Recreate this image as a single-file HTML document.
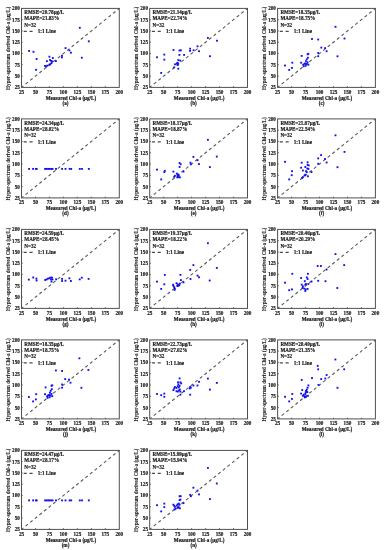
<!DOCTYPE html>
<html><head><meta charset="utf-8"><style>
html,body{margin:0;padding:0;background:#fff;width:385px;height:550px;overflow:hidden}
svg{display:block;will-change:transform;filter:blur(0.3px)}
text{font-family:"Liberation Serif",serif;font-weight:bold;font-size:5.15px;fill:#1a1a1a;stroke:#1a1a1a;stroke-width:0.18px}
.lg{font-size:5.15px}
.tk{stroke:#333;stroke-width:0.8}
.p{fill:#1010ee}
</style></head><body>
<svg width="385" height="550" viewBox="0 0 385 550">
<line x1="21.50" y1="87.40" x2="119.30" y2="8.40" stroke="#585858" stroke-width="1.1" stroke-dasharray="3.1 2.82" stroke-dashoffset="0.7"/>
<text x="21.50" y="93.70" text-anchor="middle">25</text>
<text x="19.80" y="89.30" text-anchor="end">25</text>
<line x1="35.47" y1="87.40" x2="35.47" y2="86.20" class="tk"/>
<line x1="21.50" y1="76.11" x2="22.70" y2="76.11" class="tk"/>
<text x="35.47" y="93.70" text-anchor="middle">50</text>
<text x="19.80" y="78.01" text-anchor="end">50</text>
<line x1="49.44" y1="87.40" x2="49.44" y2="86.20" class="tk"/>
<line x1="21.50" y1="64.83" x2="22.70" y2="64.83" class="tk"/>
<text x="49.44" y="93.70" text-anchor="middle">75</text>
<text x="19.80" y="66.73" text-anchor="end">75</text>
<line x1="63.41" y1="87.40" x2="63.41" y2="86.20" class="tk"/>
<line x1="21.50" y1="53.54" x2="22.70" y2="53.54" class="tk"/>
<text x="63.41" y="93.70" text-anchor="middle">100</text>
<text x="19.80" y="55.44" text-anchor="end">100</text>
<line x1="77.39" y1="87.40" x2="77.39" y2="86.20" class="tk"/>
<line x1="21.50" y1="42.26" x2="22.70" y2="42.26" class="tk"/>
<text x="77.39" y="93.70" text-anchor="middle">125</text>
<text x="19.80" y="44.16" text-anchor="end">125</text>
<line x1="91.36" y1="87.40" x2="91.36" y2="86.20" class="tk"/>
<line x1="21.50" y1="30.97" x2="22.70" y2="30.97" class="tk"/>
<text x="91.36" y="93.70" text-anchor="middle">150</text>
<text x="19.80" y="32.87" text-anchor="end">150</text>
<line x1="105.33" y1="87.40" x2="105.33" y2="86.20" class="tk"/>
<line x1="21.50" y1="19.69" x2="22.70" y2="19.69" class="tk"/>
<text x="105.33" y="93.70" text-anchor="middle">175</text>
<text x="19.80" y="21.59" text-anchor="end">175</text>
<text x="119.30" y="93.70" text-anchor="middle">200</text>
<text x="19.80" y="10.30" text-anchor="end">200</text>
<rect x="21.50" y="8.40" width="97.80" height="79.00" fill="none" stroke="#505050" stroke-width="1"/>
<text class="lg" x="24.30" y="14.00">RMSE=20.78μg/L</text>
<text class="lg" x="24.30" y="20.20">MAPE=21.83%</text>
<text class="lg" x="24.30" y="26.75">N=32</text>
<line x1="23.70" y1="31.40" x2="32.60" y2="31.40" stroke="#4a4a4a" stroke-width="1.1" stroke-dasharray="3.1 2.7"/>
<text class="lg" x="37.70" y="33.40">1:1 Line</text>
<rect x="28.18" y="49.98" width="1.85" height="1.85" class="p"/>
<rect x="32.58" y="50.88" width="1.85" height="1.85" class="p"/>
<rect x="35.68" y="58.08" width="1.85" height="1.85" class="p"/>
<rect x="35.18" y="68.88" width="1.85" height="1.85" class="p"/>
<rect x="48.48" y="55.78" width="1.85" height="1.85" class="p"/>
<rect x="51.88" y="57.08" width="1.85" height="1.85" class="p"/>
<rect x="45.98" y="60.28" width="1.85" height="1.85" class="p"/>
<rect x="49.08" y="59.08" width="1.85" height="1.85" class="p"/>
<rect x="50.28" y="59.98" width="1.85" height="1.85" class="p"/>
<rect x="51.28" y="60.58" width="1.85" height="1.85" class="p"/>
<rect x="54.98" y="60.18" width="1.85" height="1.85" class="p"/>
<rect x="50.58" y="62.18" width="1.85" height="1.85" class="p"/>
<rect x="48.48" y="63.78" width="1.85" height="1.85" class="p"/>
<rect x="49.38" y="63.38" width="1.85" height="1.85" class="p"/>
<rect x="44.08" y="64.98" width="1.85" height="1.85" class="p"/>
<rect x="45.28" y="65.38" width="1.85" height="1.85" class="p"/>
<rect x="46.58" y="64.67" width="1.85" height="1.85" class="p"/>
<rect x="60.98" y="54.88" width="1.85" height="1.85" class="p"/>
<rect x="60.98" y="56.48" width="1.85" height="1.85" class="p"/>
<rect x="64.58" y="47.18" width="1.85" height="1.85" class="p"/>
<rect x="68.48" y="49.48" width="1.85" height="1.85" class="p"/>
<rect x="69.98" y="51.78" width="1.85" height="1.85" class="p"/>
<rect x="78.88" y="26.87" width="1.85" height="1.85" class="p"/>
<rect x="87.88" y="40.38" width="1.85" height="1.85" class="p"/>
<rect x="80.88" y="56.78" width="1.85" height="1.85" class="p"/>
<text x="70.90" y="99.70" text-anchor="middle">Measured Chl-a (μg/L)</text>
<text x="65.50" y="104.80" text-anchor="middle">(a)</text>
<text transform="translate(9.60,48.35) rotate(-90)" text-anchor="middle" style="font-size:5.2px;stroke-width:0.08px">Hyper-spectrum derived Chl-a (μg/L)</text>
<line x1="149.70" y1="87.40" x2="247.50" y2="8.40" stroke="#585858" stroke-width="1.1" stroke-dasharray="3.1 2.82" stroke-dashoffset="0.7"/>
<text x="149.70" y="93.70" text-anchor="middle">25</text>
<text x="148.00" y="89.30" text-anchor="end">25</text>
<line x1="163.67" y1="87.40" x2="163.67" y2="86.20" class="tk"/>
<line x1="149.70" y1="76.11" x2="150.90" y2="76.11" class="tk"/>
<text x="163.67" y="93.70" text-anchor="middle">50</text>
<text x="148.00" y="78.01" text-anchor="end">50</text>
<line x1="177.64" y1="87.40" x2="177.64" y2="86.20" class="tk"/>
<line x1="149.70" y1="64.83" x2="150.90" y2="64.83" class="tk"/>
<text x="177.64" y="93.70" text-anchor="middle">75</text>
<text x="148.00" y="66.73" text-anchor="end">75</text>
<line x1="191.61" y1="87.40" x2="191.61" y2="86.20" class="tk"/>
<line x1="149.70" y1="53.54" x2="150.90" y2="53.54" class="tk"/>
<text x="191.61" y="93.70" text-anchor="middle">100</text>
<text x="148.00" y="55.44" text-anchor="end">100</text>
<line x1="205.59" y1="87.40" x2="205.59" y2="86.20" class="tk"/>
<line x1="149.70" y1="42.26" x2="150.90" y2="42.26" class="tk"/>
<text x="205.59" y="93.70" text-anchor="middle">125</text>
<text x="148.00" y="44.16" text-anchor="end">125</text>
<line x1="219.56" y1="87.40" x2="219.56" y2="86.20" class="tk"/>
<line x1="149.70" y1="30.97" x2="150.90" y2="30.97" class="tk"/>
<text x="219.56" y="93.70" text-anchor="middle">150</text>
<text x="148.00" y="32.87" text-anchor="end">150</text>
<line x1="233.53" y1="87.40" x2="233.53" y2="86.20" class="tk"/>
<line x1="149.70" y1="19.69" x2="150.90" y2="19.69" class="tk"/>
<text x="233.53" y="93.70" text-anchor="middle">175</text>
<text x="148.00" y="21.59" text-anchor="end">175</text>
<text x="247.50" y="93.70" text-anchor="middle">200</text>
<text x="148.00" y="10.30" text-anchor="end">200</text>
<rect x="149.70" y="8.40" width="97.80" height="79.00" fill="none" stroke="#505050" stroke-width="1"/>
<text class="lg" x="152.50" y="14.00">RMSE=21.14μg/L</text>
<text class="lg" x="152.50" y="20.20">MAPE=22.74%</text>
<text class="lg" x="152.50" y="26.75">N=32</text>
<line x1="151.90" y1="31.40" x2="160.80" y2="31.40" stroke="#4a4a4a" stroke-width="1.1" stroke-dasharray="3.1 2.7"/>
<text class="lg" x="165.90" y="33.40">1:1 Line</text>
<rect x="156.07" y="56.38" width="1.85" height="1.85" class="p"/>
<rect x="163.38" y="53.68" width="1.85" height="1.85" class="p"/>
<rect x="163.38" y="58.68" width="1.85" height="1.85" class="p"/>
<rect x="160.27" y="71.98" width="1.85" height="1.85" class="p"/>
<rect x="172.57" y="49.08" width="1.85" height="1.85" class="p"/>
<rect x="178.57" y="49.58" width="1.85" height="1.85" class="p"/>
<rect x="179.88" y="49.38" width="1.85" height="1.85" class="p"/>
<rect x="178.47" y="53.98" width="1.85" height="1.85" class="p"/>
<rect x="183.17" y="53.98" width="1.85" height="1.85" class="p"/>
<rect x="177.38" y="59.18" width="1.85" height="1.85" class="p"/>
<rect x="179.27" y="59.68" width="1.85" height="1.85" class="p"/>
<rect x="176.47" y="61.88" width="1.85" height="1.85" class="p"/>
<rect x="177.07" y="62.48" width="1.85" height="1.85" class="p"/>
<rect x="174.07" y="63.38" width="1.85" height="1.85" class="p"/>
<rect x="176.77" y="64.08" width="1.85" height="1.85" class="p"/>
<rect x="176.07" y="62.78" width="1.85" height="1.85" class="p"/>
<rect x="173.27" y="66.48" width="1.85" height="1.85" class="p"/>
<rect x="177.38" y="67.78" width="1.85" height="1.85" class="p"/>
<rect x="189.17" y="47.78" width="1.85" height="1.85" class="p"/>
<rect x="189.17" y="49.98" width="1.85" height="1.85" class="p"/>
<rect x="192.67" y="49.38" width="1.85" height="1.85" class="p"/>
<rect x="196.57" y="45.38" width="1.85" height="1.85" class="p"/>
<rect x="198.07" y="50.28" width="1.85" height="1.85" class="p"/>
<rect x="206.97" y="36.98" width="1.85" height="1.85" class="p"/>
<rect x="216.07" y="39.78" width="1.85" height="1.85" class="p"/>
<rect x="209.07" y="55.28" width="1.85" height="1.85" class="p"/>
<text x="199.10" y="99.70" text-anchor="middle">Measured Chl-a (μg/L)</text>
<text x="193.70" y="104.80" text-anchor="middle">(b)</text>
<text transform="translate(137.80,48.35) rotate(-90)" text-anchor="middle" style="font-size:5.2px;stroke-width:0.08px">Hyper-spectrum derived Chl-a (μg/L)</text>
<line x1="277.60" y1="87.40" x2="375.40" y2="8.40" stroke="#585858" stroke-width="1.1" stroke-dasharray="3.1 2.82" stroke-dashoffset="0.7"/>
<text x="277.60" y="93.70" text-anchor="middle">25</text>
<text x="275.90" y="89.30" text-anchor="end">25</text>
<line x1="291.57" y1="87.40" x2="291.57" y2="86.20" class="tk"/>
<line x1="277.60" y1="76.11" x2="278.80" y2="76.11" class="tk"/>
<text x="291.57" y="93.70" text-anchor="middle">50</text>
<text x="275.90" y="78.01" text-anchor="end">50</text>
<line x1="305.54" y1="87.40" x2="305.54" y2="86.20" class="tk"/>
<line x1="277.60" y1="64.83" x2="278.80" y2="64.83" class="tk"/>
<text x="305.54" y="93.70" text-anchor="middle">75</text>
<text x="275.90" y="66.73" text-anchor="end">75</text>
<line x1="319.51" y1="87.40" x2="319.51" y2="86.20" class="tk"/>
<line x1="277.60" y1="53.54" x2="278.80" y2="53.54" class="tk"/>
<text x="319.51" y="93.70" text-anchor="middle">100</text>
<text x="275.90" y="55.44" text-anchor="end">100</text>
<line x1="333.49" y1="87.40" x2="333.49" y2="86.20" class="tk"/>
<line x1="277.60" y1="42.26" x2="278.80" y2="42.26" class="tk"/>
<text x="333.49" y="93.70" text-anchor="middle">125</text>
<text x="275.90" y="44.16" text-anchor="end">125</text>
<line x1="347.46" y1="87.40" x2="347.46" y2="86.20" class="tk"/>
<line x1="277.60" y1="30.97" x2="278.80" y2="30.97" class="tk"/>
<text x="347.46" y="93.70" text-anchor="middle">150</text>
<text x="275.90" y="32.87" text-anchor="end">150</text>
<line x1="361.43" y1="87.40" x2="361.43" y2="86.20" class="tk"/>
<line x1="277.60" y1="19.69" x2="278.80" y2="19.69" class="tk"/>
<text x="361.43" y="93.70" text-anchor="middle">175</text>
<text x="275.90" y="21.59" text-anchor="end">175</text>
<text x="375.40" y="93.70" text-anchor="middle">200</text>
<text x="275.90" y="10.30" text-anchor="end">200</text>
<rect x="277.60" y="8.40" width="97.80" height="79.00" fill="none" stroke="#505050" stroke-width="1"/>
<text class="lg" x="280.40" y="14.00">RMSE=18.35μg/L</text>
<text class="lg" x="280.40" y="20.20">MAPE=18.75%</text>
<text class="lg" x="280.40" y="26.75">N=32</text>
<line x1="279.80" y1="31.40" x2="288.70" y2="31.40" stroke="#4a4a4a" stroke-width="1.1" stroke-dasharray="3.1 2.7"/>
<text class="lg" x="293.80" y="33.40">1:1 Line</text>
<rect x="284.07" y="64.58" width="1.85" height="1.85" class="p"/>
<rect x="288.27" y="68.98" width="1.85" height="1.85" class="p"/>
<rect x="291.07" y="66.98" width="1.85" height="1.85" class="p"/>
<rect x="291.38" y="61.78" width="1.85" height="1.85" class="p"/>
<rect x="300.77" y="54.98" width="1.85" height="1.85" class="p"/>
<rect x="300.18" y="61.78" width="1.85" height="1.85" class="p"/>
<rect x="302.27" y="63.78" width="1.85" height="1.85" class="p"/>
<rect x="303.57" y="62.68" width="1.85" height="1.85" class="p"/>
<rect x="304.77" y="64.88" width="1.85" height="1.85" class="p"/>
<rect x="302.77" y="65.38" width="1.85" height="1.85" class="p"/>
<rect x="306.68" y="53.38" width="1.85" height="1.85" class="p"/>
<rect x="307.47" y="52.88" width="1.85" height="1.85" class="p"/>
<rect x="305.88" y="58.38" width="1.85" height="1.85" class="p"/>
<rect x="306.97" y="56.78" width="1.85" height="1.85" class="p"/>
<rect x="305.07" y="60.28" width="1.85" height="1.85" class="p"/>
<rect x="306.68" y="61.48" width="1.85" height="1.85" class="p"/>
<rect x="304.38" y="62.68" width="1.85" height="1.85" class="p"/>
<rect x="305.88" y="63.08" width="1.85" height="1.85" class="p"/>
<rect x="307.47" y="63.78" width="1.85" height="1.85" class="p"/>
<rect x="311.07" y="38.08" width="1.85" height="1.85" class="p"/>
<rect x="317.27" y="38.58" width="1.85" height="1.85" class="p"/>
<rect x="317.27" y="52.08" width="1.85" height="1.85" class="p"/>
<rect x="317.27" y="55.28" width="1.85" height="1.85" class="p"/>
<rect x="320.38" y="46.68" width="1.85" height="1.85" class="p"/>
<rect x="324.18" y="47.18" width="1.85" height="1.85" class="p"/>
<rect x="325.68" y="50.28" width="1.85" height="1.85" class="p"/>
<rect x="334.57" y="25.87" width="1.85" height="1.85" class="p"/>
<rect x="343.57" y="37.58" width="1.85" height="1.85" class="p"/>
<rect x="336.57" y="55.38" width="1.85" height="1.85" class="p"/>
<text x="327.00" y="99.70" text-anchor="middle">Measured Chl-a (μg/L)</text>
<text x="321.60" y="104.80" text-anchor="middle">(c)</text>
<text transform="translate(265.70,48.35) rotate(-90)" text-anchor="middle" style="font-size:5.2px;stroke-width:0.08px">Hyper-spectrum derived Chl-a (μg/L)</text>
<line x1="21.50" y1="197.90" x2="119.30" y2="118.90" stroke="#585858" stroke-width="1.1" stroke-dasharray="3.1 2.82" stroke-dashoffset="0.7"/>
<text x="21.50" y="204.20" text-anchor="middle">25</text>
<text x="19.80" y="199.80" text-anchor="end">25</text>
<line x1="35.47" y1="197.90" x2="35.47" y2="196.70" class="tk"/>
<line x1="21.50" y1="186.61" x2="22.70" y2="186.61" class="tk"/>
<text x="35.47" y="204.20" text-anchor="middle">50</text>
<text x="19.80" y="188.51" text-anchor="end">50</text>
<line x1="49.44" y1="197.90" x2="49.44" y2="196.70" class="tk"/>
<line x1="21.50" y1="175.33" x2="22.70" y2="175.33" class="tk"/>
<text x="49.44" y="204.20" text-anchor="middle">75</text>
<text x="19.80" y="177.23" text-anchor="end">75</text>
<line x1="63.41" y1="197.90" x2="63.41" y2="196.70" class="tk"/>
<line x1="21.50" y1="164.04" x2="22.70" y2="164.04" class="tk"/>
<text x="63.41" y="204.20" text-anchor="middle">100</text>
<text x="19.80" y="165.94" text-anchor="end">100</text>
<line x1="77.39" y1="197.90" x2="77.39" y2="196.70" class="tk"/>
<line x1="21.50" y1="152.76" x2="22.70" y2="152.76" class="tk"/>
<text x="77.39" y="204.20" text-anchor="middle">125</text>
<text x="19.80" y="154.66" text-anchor="end">125</text>
<line x1="91.36" y1="197.90" x2="91.36" y2="196.70" class="tk"/>
<line x1="21.50" y1="141.47" x2="22.70" y2="141.47" class="tk"/>
<text x="91.36" y="204.20" text-anchor="middle">150</text>
<text x="19.80" y="143.37" text-anchor="end">150</text>
<line x1="105.33" y1="197.90" x2="105.33" y2="196.70" class="tk"/>
<line x1="21.50" y1="130.19" x2="22.70" y2="130.19" class="tk"/>
<text x="105.33" y="204.20" text-anchor="middle">175</text>
<text x="19.80" y="132.09" text-anchor="end">175</text>
<text x="119.30" y="204.20" text-anchor="middle">200</text>
<text x="19.80" y="120.80" text-anchor="end">200</text>
<rect x="21.50" y="118.90" width="97.80" height="79.00" fill="none" stroke="#505050" stroke-width="1"/>
<text class="lg" x="24.30" y="124.50">RMSE=24.34μg/L</text>
<text class="lg" x="24.30" y="130.70">MAPE=28.02%</text>
<text class="lg" x="24.30" y="137.25">N=32</text>
<line x1="23.70" y1="141.90" x2="32.60" y2="141.90" stroke="#4a4a4a" stroke-width="1.1" stroke-dasharray="3.1 2.7"/>
<text class="lg" x="37.70" y="143.90">1:1 Line</text>
<rect x="28.18" y="167.97" width="1.85" height="1.85" class="p"/>
<rect x="32.18" y="167.97" width="1.85" height="1.85" class="p"/>
<rect x="34.98" y="167.97" width="1.85" height="1.85" class="p"/>
<rect x="35.78" y="167.97" width="1.85" height="1.85" class="p"/>
<rect x="44.18" y="167.97" width="1.85" height="1.85" class="p"/>
<rect x="45.68" y="167.97" width="1.85" height="1.85" class="p"/>
<rect x="47.18" y="167.97" width="1.85" height="1.85" class="p"/>
<rect x="48.68" y="167.97" width="1.85" height="1.85" class="p"/>
<rect x="50.18" y="167.97" width="1.85" height="1.85" class="p"/>
<rect x="51.68" y="167.97" width="1.85" height="1.85" class="p"/>
<rect x="55.08" y="167.97" width="1.85" height="1.85" class="p"/>
<rect x="61.18" y="167.97" width="1.85" height="1.85" class="p"/>
<rect x="64.58" y="167.97" width="1.85" height="1.85" class="p"/>
<rect x="68.67" y="167.97" width="1.85" height="1.85" class="p"/>
<rect x="70.28" y="167.97" width="1.85" height="1.85" class="p"/>
<rect x="78.88" y="167.97" width="1.85" height="1.85" class="p"/>
<rect x="81.08" y="167.97" width="1.85" height="1.85" class="p"/>
<rect x="87.88" y="167.97" width="1.85" height="1.85" class="p"/>
<text x="70.90" y="210.20" text-anchor="middle">Measured Chl-a (μg/L)</text>
<text x="65.50" y="215.30" text-anchor="middle">(d)</text>
<text transform="translate(9.60,158.85) rotate(-90)" text-anchor="middle" style="font-size:5.2px;stroke-width:0.08px">Hyper-spectrum derived Chl-a (μg/L)</text>
<line x1="149.70" y1="197.90" x2="247.50" y2="118.90" stroke="#585858" stroke-width="1.1" stroke-dasharray="3.1 2.82" stroke-dashoffset="0.7"/>
<text x="149.70" y="204.20" text-anchor="middle">25</text>
<text x="148.00" y="199.80" text-anchor="end">25</text>
<line x1="163.67" y1="197.90" x2="163.67" y2="196.70" class="tk"/>
<line x1="149.70" y1="186.61" x2="150.90" y2="186.61" class="tk"/>
<text x="163.67" y="204.20" text-anchor="middle">50</text>
<text x="148.00" y="188.51" text-anchor="end">50</text>
<line x1="177.64" y1="197.90" x2="177.64" y2="196.70" class="tk"/>
<line x1="149.70" y1="175.33" x2="150.90" y2="175.33" class="tk"/>
<text x="177.64" y="204.20" text-anchor="middle">75</text>
<text x="148.00" y="177.23" text-anchor="end">75</text>
<line x1="191.61" y1="197.90" x2="191.61" y2="196.70" class="tk"/>
<line x1="149.70" y1="164.04" x2="150.90" y2="164.04" class="tk"/>
<text x="191.61" y="204.20" text-anchor="middle">100</text>
<text x="148.00" y="165.94" text-anchor="end">100</text>
<line x1="205.59" y1="197.90" x2="205.59" y2="196.70" class="tk"/>
<line x1="149.70" y1="152.76" x2="150.90" y2="152.76" class="tk"/>
<text x="205.59" y="204.20" text-anchor="middle">125</text>
<text x="148.00" y="154.66" text-anchor="end">125</text>
<line x1="219.56" y1="197.90" x2="219.56" y2="196.70" class="tk"/>
<line x1="149.70" y1="141.47" x2="150.90" y2="141.47" class="tk"/>
<text x="219.56" y="204.20" text-anchor="middle">150</text>
<text x="148.00" y="143.37" text-anchor="end">150</text>
<line x1="233.53" y1="197.90" x2="233.53" y2="196.70" class="tk"/>
<line x1="149.70" y1="130.19" x2="150.90" y2="130.19" class="tk"/>
<text x="233.53" y="204.20" text-anchor="middle">175</text>
<text x="148.00" y="132.09" text-anchor="end">175</text>
<text x="247.50" y="204.20" text-anchor="middle">200</text>
<text x="148.00" y="120.80" text-anchor="end">200</text>
<rect x="149.70" y="118.90" width="97.80" height="79.00" fill="none" stroke="#505050" stroke-width="1"/>
<text class="lg" x="152.50" y="124.50">RMSE=18.17μg/L</text>
<text class="lg" x="152.50" y="130.70">MAPE=18.87%</text>
<text class="lg" x="152.50" y="137.25">N=32</text>
<line x1="151.90" y1="141.90" x2="160.80" y2="141.90" stroke="#4a4a4a" stroke-width="1.1" stroke-dasharray="3.1 2.7"/>
<text class="lg" x="165.90" y="143.90">1:1 Line</text>
<rect x="156.07" y="168.67" width="1.85" height="1.85" class="p"/>
<rect x="160.27" y="178.47" width="1.85" height="1.85" class="p"/>
<rect x="163.38" y="171.17" width="1.85" height="1.85" class="p"/>
<rect x="163.88" y="169.88" width="1.85" height="1.85" class="p"/>
<rect x="172.47" y="170.67" width="1.85" height="1.85" class="p"/>
<rect x="173.27" y="175.88" width="1.85" height="1.85" class="p"/>
<rect x="173.97" y="174.88" width="1.85" height="1.85" class="p"/>
<rect x="175.88" y="172.67" width="1.85" height="1.85" class="p"/>
<rect x="176.77" y="173.38" width="1.85" height="1.85" class="p"/>
<rect x="177.88" y="174.27" width="1.85" height="1.85" class="p"/>
<rect x="176.77" y="175.38" width="1.85" height="1.85" class="p"/>
<rect x="177.88" y="176.17" width="1.85" height="1.85" class="p"/>
<rect x="178.97" y="176.47" width="1.85" height="1.85" class="p"/>
<rect x="176.38" y="176.47" width="1.85" height="1.85" class="p"/>
<rect x="178.67" y="162.07" width="1.85" height="1.85" class="p"/>
<rect x="179.77" y="163.38" width="1.85" height="1.85" class="p"/>
<rect x="178.67" y="166.07" width="1.85" height="1.85" class="p"/>
<rect x="182.57" y="170.67" width="1.85" height="1.85" class="p"/>
<rect x="189.57" y="161.77" width="1.85" height="1.85" class="p"/>
<rect x="189.88" y="163.38" width="1.85" height="1.85" class="p"/>
<rect x="192.47" y="155.97" width="1.85" height="1.85" class="p"/>
<rect x="196.57" y="159.27" width="1.85" height="1.85" class="p"/>
<rect x="198.07" y="163.17" width="1.85" height="1.85" class="p"/>
<rect x="206.97" y="138.88" width="1.85" height="1.85" class="p"/>
<rect x="215.88" y="155.67" width="1.85" height="1.85" class="p"/>
<rect x="208.97" y="166.17" width="1.85" height="1.85" class="p"/>
<text x="199.10" y="210.20" text-anchor="middle">Measured Chl-a (μg/L)</text>
<text x="193.70" y="215.30" text-anchor="middle">(e)</text>
<text transform="translate(137.80,158.85) rotate(-90)" text-anchor="middle" style="font-size:5.2px;stroke-width:0.08px">Hyper-spectrum derived Chl-a (μg/L)</text>
<line x1="277.60" y1="197.90" x2="375.40" y2="118.90" stroke="#585858" stroke-width="1.1" stroke-dasharray="3.1 2.82" stroke-dashoffset="0.7"/>
<text x="277.60" y="204.20" text-anchor="middle">25</text>
<text x="275.90" y="199.80" text-anchor="end">25</text>
<line x1="291.57" y1="197.90" x2="291.57" y2="196.70" class="tk"/>
<line x1="277.60" y1="186.61" x2="278.80" y2="186.61" class="tk"/>
<text x="291.57" y="204.20" text-anchor="middle">50</text>
<text x="275.90" y="188.51" text-anchor="end">50</text>
<line x1="305.54" y1="197.90" x2="305.54" y2="196.70" class="tk"/>
<line x1="277.60" y1="175.33" x2="278.80" y2="175.33" class="tk"/>
<text x="305.54" y="204.20" text-anchor="middle">75</text>
<text x="275.90" y="177.23" text-anchor="end">75</text>
<line x1="319.51" y1="197.90" x2="319.51" y2="196.70" class="tk"/>
<line x1="277.60" y1="164.04" x2="278.80" y2="164.04" class="tk"/>
<text x="319.51" y="204.20" text-anchor="middle">100</text>
<text x="275.90" y="165.94" text-anchor="end">100</text>
<line x1="333.49" y1="197.90" x2="333.49" y2="196.70" class="tk"/>
<line x1="277.60" y1="152.76" x2="278.80" y2="152.76" class="tk"/>
<text x="333.49" y="204.20" text-anchor="middle">125</text>
<text x="275.90" y="154.66" text-anchor="end">125</text>
<line x1="347.46" y1="197.90" x2="347.46" y2="196.70" class="tk"/>
<line x1="277.60" y1="141.47" x2="278.80" y2="141.47" class="tk"/>
<text x="347.46" y="204.20" text-anchor="middle">150</text>
<text x="275.90" y="143.37" text-anchor="end">150</text>
<line x1="361.43" y1="197.90" x2="361.43" y2="196.70" class="tk"/>
<line x1="277.60" y1="130.19" x2="278.80" y2="130.19" class="tk"/>
<text x="361.43" y="204.20" text-anchor="middle">175</text>
<text x="275.90" y="132.09" text-anchor="end">175</text>
<text x="375.40" y="204.20" text-anchor="middle">200</text>
<text x="275.90" y="120.80" text-anchor="end">200</text>
<rect x="277.60" y="118.90" width="97.80" height="79.00" fill="none" stroke="#505050" stroke-width="1"/>
<text class="lg" x="280.40" y="124.50">RMSE=21.87μg/L</text>
<text class="lg" x="280.40" y="130.70">MAPE=22.54%</text>
<text class="lg" x="280.40" y="137.25">N=32</text>
<line x1="279.80" y1="141.90" x2="288.70" y2="141.90" stroke="#4a4a4a" stroke-width="1.1" stroke-dasharray="3.1 2.7"/>
<text class="lg" x="293.80" y="143.90">1:1 Line</text>
<rect x="284.07" y="160.88" width="1.85" height="1.85" class="p"/>
<rect x="288.27" y="178.47" width="1.85" height="1.85" class="p"/>
<rect x="291.07" y="170.27" width="1.85" height="1.85" class="p"/>
<rect x="290.77" y="174.27" width="1.85" height="1.85" class="p"/>
<rect x="300.77" y="161.77" width="1.85" height="1.85" class="p"/>
<rect x="300.18" y="166.77" width="1.85" height="1.85" class="p"/>
<rect x="301.97" y="169.57" width="1.85" height="1.85" class="p"/>
<rect x="304.38" y="166.07" width="1.85" height="1.85" class="p"/>
<rect x="306.68" y="161.38" width="1.85" height="1.85" class="p"/>
<rect x="306.68" y="163.97" width="1.85" height="1.85" class="p"/>
<rect x="307.77" y="164.47" width="1.85" height="1.85" class="p"/>
<rect x="306.38" y="167.57" width="1.85" height="1.85" class="p"/>
<rect x="307.47" y="168.07" width="1.85" height="1.85" class="p"/>
<rect x="305.07" y="170.27" width="1.85" height="1.85" class="p"/>
<rect x="305.88" y="171.17" width="1.85" height="1.85" class="p"/>
<rect x="304.38" y="173.77" width="1.85" height="1.85" class="p"/>
<rect x="303.57" y="174.57" width="1.85" height="1.85" class="p"/>
<rect x="301.97" y="176.17" width="1.85" height="1.85" class="p"/>
<rect x="301.27" y="176.97" width="1.85" height="1.85" class="p"/>
<rect x="306.97" y="175.38" width="1.85" height="1.85" class="p"/>
<rect x="310.57" y="171.17" width="1.85" height="1.85" class="p"/>
<rect x="317.27" y="157.47" width="1.85" height="1.85" class="p"/>
<rect x="317.27" y="162.88" width="1.85" height="1.85" class="p"/>
<rect x="320.18" y="154.17" width="1.85" height="1.85" class="p"/>
<rect x="324.07" y="158.07" width="1.85" height="1.85" class="p"/>
<rect x="325.68" y="161.57" width="1.85" height="1.85" class="p"/>
<rect x="334.57" y="134.38" width="1.85" height="1.85" class="p"/>
<rect x="343.57" y="150.97" width="1.85" height="1.85" class="p"/>
<rect x="336.57" y="166.27" width="1.85" height="1.85" class="p"/>
<text x="327.00" y="210.20" text-anchor="middle">Measured Chl-a (μg/L)</text>
<text x="321.60" y="215.30" text-anchor="middle">(f)</text>
<text transform="translate(265.70,158.85) rotate(-90)" text-anchor="middle" style="font-size:5.2px;stroke-width:0.08px">Hyper-spectrum derived Chl-a (μg/L)</text>
<line x1="21.50" y1="308.40" x2="119.30" y2="229.40" stroke="#585858" stroke-width="1.1" stroke-dasharray="3.1 2.82" stroke-dashoffset="0.7"/>
<text x="21.50" y="314.70" text-anchor="middle">25</text>
<text x="19.80" y="310.30" text-anchor="end">25</text>
<line x1="35.47" y1="308.40" x2="35.47" y2="307.20" class="tk"/>
<line x1="21.50" y1="297.11" x2="22.70" y2="297.11" class="tk"/>
<text x="35.47" y="314.70" text-anchor="middle">50</text>
<text x="19.80" y="299.01" text-anchor="end">50</text>
<line x1="49.44" y1="308.40" x2="49.44" y2="307.20" class="tk"/>
<line x1="21.50" y1="285.83" x2="22.70" y2="285.83" class="tk"/>
<text x="49.44" y="314.70" text-anchor="middle">75</text>
<text x="19.80" y="287.73" text-anchor="end">75</text>
<line x1="63.41" y1="308.40" x2="63.41" y2="307.20" class="tk"/>
<line x1="21.50" y1="274.54" x2="22.70" y2="274.54" class="tk"/>
<text x="63.41" y="314.70" text-anchor="middle">100</text>
<text x="19.80" y="276.44" text-anchor="end">100</text>
<line x1="77.39" y1="308.40" x2="77.39" y2="307.20" class="tk"/>
<line x1="21.50" y1="263.26" x2="22.70" y2="263.26" class="tk"/>
<text x="77.39" y="314.70" text-anchor="middle">125</text>
<text x="19.80" y="265.16" text-anchor="end">125</text>
<line x1="91.36" y1="308.40" x2="91.36" y2="307.20" class="tk"/>
<line x1="21.50" y1="251.97" x2="22.70" y2="251.97" class="tk"/>
<text x="91.36" y="314.70" text-anchor="middle">150</text>
<text x="19.80" y="253.87" text-anchor="end">150</text>
<line x1="105.33" y1="308.40" x2="105.33" y2="307.20" class="tk"/>
<line x1="21.50" y1="240.69" x2="22.70" y2="240.69" class="tk"/>
<text x="105.33" y="314.70" text-anchor="middle">175</text>
<text x="19.80" y="242.59" text-anchor="end">175</text>
<text x="119.30" y="314.70" text-anchor="middle">200</text>
<text x="19.80" y="231.30" text-anchor="end">200</text>
<rect x="21.50" y="229.40" width="97.80" height="79.00" fill="none" stroke="#505050" stroke-width="1"/>
<text class="lg" x="24.30" y="235.00">RMSE=24.59μg/L</text>
<text class="lg" x="24.30" y="241.20">MAPE=28.45%</text>
<text class="lg" x="24.30" y="247.75">N=32</text>
<line x1="23.70" y1="252.40" x2="32.60" y2="252.40" stroke="#4a4a4a" stroke-width="1.1" stroke-dasharray="3.1 2.7"/>
<text class="lg" x="37.70" y="254.40">1:1 Line</text>
<rect x="27.88" y="278.68" width="1.85" height="1.85" class="p"/>
<rect x="32.28" y="276.57" width="1.85" height="1.85" class="p"/>
<rect x="35.48" y="277.68" width="1.85" height="1.85" class="p"/>
<rect x="35.68" y="279.57" width="1.85" height="1.85" class="p"/>
<rect x="44.28" y="279.07" width="1.85" height="1.85" class="p"/>
<rect x="45.68" y="278.47" width="1.85" height="1.85" class="p"/>
<rect x="47.08" y="277.68" width="1.85" height="1.85" class="p"/>
<rect x="48.58" y="277.27" width="1.85" height="1.85" class="p"/>
<rect x="49.68" y="276.68" width="1.85" height="1.85" class="p"/>
<rect x="51.08" y="276.68" width="1.85" height="1.85" class="p"/>
<rect x="50.08" y="278.57" width="1.85" height="1.85" class="p"/>
<rect x="50.58" y="280.68" width="1.85" height="1.85" class="p"/>
<rect x="51.58" y="278.47" width="1.85" height="1.85" class="p"/>
<rect x="55.18" y="278.38" width="1.85" height="1.85" class="p"/>
<rect x="61.18" y="277.97" width="1.85" height="1.85" class="p"/>
<rect x="61.18" y="280.07" width="1.85" height="1.85" class="p"/>
<rect x="64.58" y="279.77" width="1.85" height="1.85" class="p"/>
<rect x="68.48" y="277.38" width="1.85" height="1.85" class="p"/>
<rect x="69.98" y="280.07" width="1.85" height="1.85" class="p"/>
<rect x="78.78" y="278.47" width="1.85" height="1.85" class="p"/>
<rect x="80.88" y="276.77" width="1.85" height="1.85" class="p"/>
<rect x="87.67" y="277.97" width="1.85" height="1.85" class="p"/>
<text x="70.90" y="320.70" text-anchor="middle">Measured Chl-a (μg/L)</text>
<text x="65.50" y="325.80" text-anchor="middle">(g)</text>
<text transform="translate(9.60,269.35) rotate(-90)" text-anchor="middle" style="font-size:5.2px;stroke-width:0.08px">Hyper-spectrum derived Chl-a (μg/L)</text>
<line x1="149.70" y1="308.40" x2="247.50" y2="229.40" stroke="#585858" stroke-width="1.1" stroke-dasharray="3.1 2.82" stroke-dashoffset="0.7"/>
<text x="149.70" y="314.70" text-anchor="middle">25</text>
<text x="148.00" y="310.30" text-anchor="end">25</text>
<line x1="163.67" y1="308.40" x2="163.67" y2="307.20" class="tk"/>
<line x1="149.70" y1="297.11" x2="150.90" y2="297.11" class="tk"/>
<text x="163.67" y="314.70" text-anchor="middle">50</text>
<text x="148.00" y="299.01" text-anchor="end">50</text>
<line x1="177.64" y1="308.40" x2="177.64" y2="307.20" class="tk"/>
<line x1="149.70" y1="285.83" x2="150.90" y2="285.83" class="tk"/>
<text x="177.64" y="314.70" text-anchor="middle">75</text>
<text x="148.00" y="287.73" text-anchor="end">75</text>
<line x1="191.61" y1="308.40" x2="191.61" y2="307.20" class="tk"/>
<line x1="149.70" y1="274.54" x2="150.90" y2="274.54" class="tk"/>
<text x="191.61" y="314.70" text-anchor="middle">100</text>
<text x="148.00" y="276.44" text-anchor="end">100</text>
<line x1="205.59" y1="308.40" x2="205.59" y2="307.20" class="tk"/>
<line x1="149.70" y1="263.26" x2="150.90" y2="263.26" class="tk"/>
<text x="205.59" y="314.70" text-anchor="middle">125</text>
<text x="148.00" y="265.16" text-anchor="end">125</text>
<line x1="219.56" y1="308.40" x2="219.56" y2="307.20" class="tk"/>
<line x1="149.70" y1="251.97" x2="150.90" y2="251.97" class="tk"/>
<text x="219.56" y="314.70" text-anchor="middle">150</text>
<text x="148.00" y="253.87" text-anchor="end">150</text>
<line x1="233.53" y1="308.40" x2="233.53" y2="307.20" class="tk"/>
<line x1="149.70" y1="240.69" x2="150.90" y2="240.69" class="tk"/>
<text x="233.53" y="314.70" text-anchor="middle">175</text>
<text x="148.00" y="242.59" text-anchor="end">175</text>
<text x="247.50" y="314.70" text-anchor="middle">200</text>
<text x="148.00" y="231.30" text-anchor="end">200</text>
<rect x="149.70" y="229.40" width="97.80" height="79.00" fill="none" stroke="#505050" stroke-width="1"/>
<text class="lg" x="152.50" y="235.00">RMSE=19.37μg/L</text>
<text class="lg" x="152.50" y="241.20">MAPE=18.22%</text>
<text class="lg" x="152.50" y="247.75">N=32</text>
<line x1="151.90" y1="252.40" x2="160.80" y2="252.40" stroke="#4a4a4a" stroke-width="1.1" stroke-dasharray="3.1 2.7"/>
<text class="lg" x="165.90" y="254.40">1:1 Line</text>
<rect x="156.07" y="280.68" width="1.85" height="1.85" class="p"/>
<rect x="160.27" y="287.97" width="1.85" height="1.85" class="p"/>
<rect x="163.38" y="283.38" width="1.85" height="1.85" class="p"/>
<rect x="163.88" y="273.97" width="1.85" height="1.85" class="p"/>
<rect x="172.17" y="283.77" width="1.85" height="1.85" class="p"/>
<rect x="172.47" y="284.88" width="1.85" height="1.85" class="p"/>
<rect x="173.27" y="286.18" width="1.85" height="1.85" class="p"/>
<rect x="173.97" y="287.68" width="1.85" height="1.85" class="p"/>
<rect x="173.67" y="288.97" width="1.85" height="1.85" class="p"/>
<rect x="175.57" y="282.27" width="1.85" height="1.85" class="p"/>
<rect x="176.77" y="283.38" width="1.85" height="1.85" class="p"/>
<rect x="177.47" y="284.88" width="1.85" height="1.85" class="p"/>
<rect x="178.38" y="284.27" width="1.85" height="1.85" class="p"/>
<rect x="178.97" y="282.68" width="1.85" height="1.85" class="p"/>
<rect x="179.97" y="279.18" width="1.85" height="1.85" class="p"/>
<rect x="176.38" y="284.88" width="1.85" height="1.85" class="p"/>
<rect x="179.47" y="273.97" width="1.85" height="1.85" class="p"/>
<rect x="182.57" y="281.47" width="1.85" height="1.85" class="p"/>
<rect x="189.27" y="268.97" width="1.85" height="1.85" class="p"/>
<rect x="189.57" y="278.07" width="1.85" height="1.85" class="p"/>
<rect x="192.47" y="264.18" width="1.85" height="1.85" class="p"/>
<rect x="196.57" y="274.68" width="1.85" height="1.85" class="p"/>
<rect x="198.07" y="276.38" width="1.85" height="1.85" class="p"/>
<rect x="206.97" y="242.27" width="1.85" height="1.85" class="p"/>
<rect x="215.88" y="266.97" width="1.85" height="1.85" class="p"/>
<rect x="208.77" y="279.57" width="1.85" height="1.85" class="p"/>
<text x="199.10" y="320.70" text-anchor="middle">Measured Chl-a (μg/L)</text>
<text x="193.70" y="325.80" text-anchor="middle">(h)</text>
<text transform="translate(137.80,269.35) rotate(-90)" text-anchor="middle" style="font-size:5.2px;stroke-width:0.08px">Hyper-spectrum derived Chl-a (μg/L)</text>
<line x1="277.60" y1="308.40" x2="375.40" y2="229.40" stroke="#585858" stroke-width="1.1" stroke-dasharray="3.1 2.82" stroke-dashoffset="0.7"/>
<text x="277.60" y="314.70" text-anchor="middle">25</text>
<text x="275.90" y="310.30" text-anchor="end">25</text>
<line x1="291.57" y1="308.40" x2="291.57" y2="307.20" class="tk"/>
<line x1="277.60" y1="297.11" x2="278.80" y2="297.11" class="tk"/>
<text x="291.57" y="314.70" text-anchor="middle">50</text>
<text x="275.90" y="299.01" text-anchor="end">50</text>
<line x1="305.54" y1="308.40" x2="305.54" y2="307.20" class="tk"/>
<line x1="277.60" y1="285.83" x2="278.80" y2="285.83" class="tk"/>
<text x="305.54" y="314.70" text-anchor="middle">75</text>
<text x="275.90" y="287.73" text-anchor="end">75</text>
<line x1="319.51" y1="308.40" x2="319.51" y2="307.20" class="tk"/>
<line x1="277.60" y1="274.54" x2="278.80" y2="274.54" class="tk"/>
<text x="319.51" y="314.70" text-anchor="middle">100</text>
<text x="275.90" y="276.44" text-anchor="end">100</text>
<line x1="333.49" y1="308.40" x2="333.49" y2="307.20" class="tk"/>
<line x1="277.60" y1="263.26" x2="278.80" y2="263.26" class="tk"/>
<text x="333.49" y="314.70" text-anchor="middle">125</text>
<text x="275.90" y="265.16" text-anchor="end">125</text>
<line x1="347.46" y1="308.40" x2="347.46" y2="307.20" class="tk"/>
<line x1="277.60" y1="251.97" x2="278.80" y2="251.97" class="tk"/>
<text x="347.46" y="314.70" text-anchor="middle">150</text>
<text x="275.90" y="253.87" text-anchor="end">150</text>
<line x1="361.43" y1="308.40" x2="361.43" y2="307.20" class="tk"/>
<line x1="277.60" y1="240.69" x2="278.80" y2="240.69" class="tk"/>
<text x="361.43" y="314.70" text-anchor="middle">175</text>
<text x="275.90" y="242.59" text-anchor="end">175</text>
<text x="375.40" y="314.70" text-anchor="middle">200</text>
<text x="275.90" y="231.30" text-anchor="end">200</text>
<rect x="277.60" y="229.40" width="97.80" height="79.00" fill="none" stroke="#505050" stroke-width="1"/>
<text class="lg" x="280.40" y="235.00">RMSE=20.46μg/L</text>
<text class="lg" x="280.40" y="241.20">MAPE=20.29%</text>
<text class="lg" x="280.40" y="247.75">N=32</text>
<line x1="279.80" y1="252.40" x2="288.70" y2="252.40" stroke="#4a4a4a" stroke-width="1.1" stroke-dasharray="3.1 2.7"/>
<text class="lg" x="293.80" y="254.40">1:1 Line</text>
<rect x="284.07" y="281.77" width="1.85" height="1.85" class="p"/>
<rect x="288.27" y="289.27" width="1.85" height="1.85" class="p"/>
<rect x="291.07" y="288.47" width="1.85" height="1.85" class="p"/>
<rect x="291.38" y="272.88" width="1.85" height="1.85" class="p"/>
<rect x="300.18" y="277.07" width="1.85" height="1.85" class="p"/>
<rect x="300.77" y="283.77" width="1.85" height="1.85" class="p"/>
<rect x="301.97" y="285.38" width="1.85" height="1.85" class="p"/>
<rect x="303.88" y="280.27" width="1.85" height="1.85" class="p"/>
<rect x="305.88" y="276.47" width="1.85" height="1.85" class="p"/>
<rect x="306.68" y="278.07" width="1.85" height="1.85" class="p"/>
<rect x="306.97" y="272.88" width="1.85" height="1.85" class="p"/>
<rect x="304.38" y="283.77" width="1.85" height="1.85" class="p"/>
<rect x="305.07" y="283.07" width="1.85" height="1.85" class="p"/>
<rect x="307.47" y="283.07" width="1.85" height="1.85" class="p"/>
<rect x="301.68" y="286.97" width="1.85" height="1.85" class="p"/>
<rect x="303.27" y="287.68" width="1.85" height="1.85" class="p"/>
<rect x="304.77" y="288.47" width="1.85" height="1.85" class="p"/>
<rect x="304.38" y="290.07" width="1.85" height="1.85" class="p"/>
<rect x="306.68" y="287.97" width="1.85" height="1.85" class="p"/>
<rect x="310.57" y="280.68" width="1.85" height="1.85" class="p"/>
<rect x="316.77" y="265.07" width="1.85" height="1.85" class="p"/>
<rect x="319.97" y="265.07" width="1.85" height="1.85" class="p"/>
<rect x="317.27" y="279.88" width="1.85" height="1.85" class="p"/>
<rect x="324.57" y="280.27" width="1.85" height="1.85" class="p"/>
<rect x="325.68" y="268.57" width="1.85" height="1.85" class="p"/>
<rect x="334.57" y="253.17" width="1.85" height="1.85" class="p"/>
<rect x="343.27" y="264.18" width="1.85" height="1.85" class="p"/>
<rect x="336.38" y="287.07" width="1.85" height="1.85" class="p"/>
<text x="327.00" y="320.70" text-anchor="middle">Measured Chl-a (μg/L)</text>
<text x="321.60" y="325.80" text-anchor="middle">(i)</text>
<text transform="translate(265.70,269.35) rotate(-90)" text-anchor="middle" style="font-size:5.2px;stroke-width:0.08px">Hyper-spectrum derived Chl-a (μg/L)</text>
<line x1="21.50" y1="418.90" x2="119.30" y2="339.90" stroke="#585858" stroke-width="1.1" stroke-dasharray="3.1 2.82" stroke-dashoffset="0.7"/>
<text x="21.50" y="425.20" text-anchor="middle">25</text>
<text x="19.80" y="420.80" text-anchor="end">25</text>
<line x1="35.47" y1="418.90" x2="35.47" y2="417.70" class="tk"/>
<line x1="21.50" y1="407.61" x2="22.70" y2="407.61" class="tk"/>
<text x="35.47" y="425.20" text-anchor="middle">50</text>
<text x="19.80" y="409.51" text-anchor="end">50</text>
<line x1="49.44" y1="418.90" x2="49.44" y2="417.70" class="tk"/>
<line x1="21.50" y1="396.33" x2="22.70" y2="396.33" class="tk"/>
<text x="49.44" y="425.20" text-anchor="middle">75</text>
<text x="19.80" y="398.23" text-anchor="end">75</text>
<line x1="63.41" y1="418.90" x2="63.41" y2="417.70" class="tk"/>
<line x1="21.50" y1="385.04" x2="22.70" y2="385.04" class="tk"/>
<text x="63.41" y="425.20" text-anchor="middle">100</text>
<text x="19.80" y="386.94" text-anchor="end">100</text>
<line x1="77.39" y1="418.90" x2="77.39" y2="417.70" class="tk"/>
<line x1="21.50" y1="373.76" x2="22.70" y2="373.76" class="tk"/>
<text x="77.39" y="425.20" text-anchor="middle">125</text>
<text x="19.80" y="375.66" text-anchor="end">125</text>
<line x1="91.36" y1="418.90" x2="91.36" y2="417.70" class="tk"/>
<line x1="21.50" y1="362.47" x2="22.70" y2="362.47" class="tk"/>
<text x="91.36" y="425.20" text-anchor="middle">150</text>
<text x="19.80" y="364.37" text-anchor="end">150</text>
<line x1="105.33" y1="418.90" x2="105.33" y2="417.70" class="tk"/>
<line x1="21.50" y1="351.19" x2="22.70" y2="351.19" class="tk"/>
<text x="105.33" y="425.20" text-anchor="middle">175</text>
<text x="19.80" y="353.09" text-anchor="end">175</text>
<text x="119.30" y="425.20" text-anchor="middle">200</text>
<text x="19.80" y="341.80" text-anchor="end">200</text>
<rect x="21.50" y="339.90" width="97.80" height="79.00" fill="none" stroke="#505050" stroke-width="1"/>
<text class="lg" x="24.30" y="345.50">RMSE=18.35μg/L</text>
<text class="lg" x="24.30" y="351.70">MAPE=18.75%</text>
<text class="lg" x="24.30" y="358.25">N=32</text>
<line x1="23.70" y1="362.90" x2="32.60" y2="362.90" stroke="#4a4a4a" stroke-width="1.1" stroke-dasharray="3.1 2.7"/>
<text class="lg" x="37.70" y="364.90">1:1 Line</text>
<rect x="27.97" y="396.07" width="1.85" height="1.85" class="p"/>
<rect x="32.17" y="400.47" width="1.85" height="1.85" class="p"/>
<rect x="34.97" y="398.47" width="1.85" height="1.85" class="p"/>
<rect x="35.27" y="393.27" width="1.85" height="1.85" class="p"/>
<rect x="44.67" y="386.47" width="1.85" height="1.85" class="p"/>
<rect x="44.08" y="393.27" width="1.85" height="1.85" class="p"/>
<rect x="46.17" y="395.27" width="1.85" height="1.85" class="p"/>
<rect x="47.47" y="394.17" width="1.85" height="1.85" class="p"/>
<rect x="48.67" y="396.37" width="1.85" height="1.85" class="p"/>
<rect x="46.67" y="396.87" width="1.85" height="1.85" class="p"/>
<rect x="50.58" y="384.87" width="1.85" height="1.85" class="p"/>
<rect x="51.37" y="384.37" width="1.85" height="1.85" class="p"/>
<rect x="49.77" y="389.87" width="1.85" height="1.85" class="p"/>
<rect x="50.87" y="388.27" width="1.85" height="1.85" class="p"/>
<rect x="48.97" y="391.77" width="1.85" height="1.85" class="p"/>
<rect x="50.58" y="392.97" width="1.85" height="1.85" class="p"/>
<rect x="48.27" y="394.17" width="1.85" height="1.85" class="p"/>
<rect x="49.77" y="394.57" width="1.85" height="1.85" class="p"/>
<rect x="51.37" y="395.27" width="1.85" height="1.85" class="p"/>
<rect x="54.97" y="369.57" width="1.85" height="1.85" class="p"/>
<rect x="61.17" y="370.07" width="1.85" height="1.85" class="p"/>
<rect x="61.17" y="383.57" width="1.85" height="1.85" class="p"/>
<rect x="61.17" y="386.77" width="1.85" height="1.85" class="p"/>
<rect x="64.27" y="378.17" width="1.85" height="1.85" class="p"/>
<rect x="68.08" y="378.67" width="1.85" height="1.85" class="p"/>
<rect x="69.58" y="381.77" width="1.85" height="1.85" class="p"/>
<rect x="78.47" y="357.37" width="1.85" height="1.85" class="p"/>
<rect x="87.47" y="369.07" width="1.85" height="1.85" class="p"/>
<rect x="80.47" y="386.87" width="1.85" height="1.85" class="p"/>
<text x="70.90" y="431.20" text-anchor="middle">Measured Chl-a (μg/L)</text>
<text x="65.50" y="436.30" text-anchor="middle">(j)</text>
<text transform="translate(9.60,379.85) rotate(-90)" text-anchor="middle" style="font-size:5.2px;stroke-width:0.08px">Hyper-spectrum derived Chl-a (μg/L)</text>
<line x1="149.70" y1="418.90" x2="247.50" y2="339.90" stroke="#585858" stroke-width="1.1" stroke-dasharray="3.1 2.82" stroke-dashoffset="0.7"/>
<text x="149.70" y="425.20" text-anchor="middle">25</text>
<text x="148.00" y="420.80" text-anchor="end">25</text>
<line x1="163.67" y1="418.90" x2="163.67" y2="417.70" class="tk"/>
<line x1="149.70" y1="407.61" x2="150.90" y2="407.61" class="tk"/>
<text x="163.67" y="425.20" text-anchor="middle">50</text>
<text x="148.00" y="409.51" text-anchor="end">50</text>
<line x1="177.64" y1="418.90" x2="177.64" y2="417.70" class="tk"/>
<line x1="149.70" y1="396.33" x2="150.90" y2="396.33" class="tk"/>
<text x="177.64" y="425.20" text-anchor="middle">75</text>
<text x="148.00" y="398.23" text-anchor="end">75</text>
<line x1="191.61" y1="418.90" x2="191.61" y2="417.70" class="tk"/>
<line x1="149.70" y1="385.04" x2="150.90" y2="385.04" class="tk"/>
<text x="191.61" y="425.20" text-anchor="middle">100</text>
<text x="148.00" y="386.94" text-anchor="end">100</text>
<line x1="205.59" y1="418.90" x2="205.59" y2="417.70" class="tk"/>
<line x1="149.70" y1="373.76" x2="150.90" y2="373.76" class="tk"/>
<text x="205.59" y="425.20" text-anchor="middle">125</text>
<text x="148.00" y="375.66" text-anchor="end">125</text>
<line x1="219.56" y1="418.90" x2="219.56" y2="417.70" class="tk"/>
<line x1="149.70" y1="362.47" x2="150.90" y2="362.47" class="tk"/>
<text x="219.56" y="425.20" text-anchor="middle">150</text>
<text x="148.00" y="364.37" text-anchor="end">150</text>
<line x1="233.53" y1="418.90" x2="233.53" y2="417.70" class="tk"/>
<line x1="149.70" y1="351.19" x2="150.90" y2="351.19" class="tk"/>
<text x="233.53" y="425.20" text-anchor="middle">175</text>
<text x="148.00" y="353.09" text-anchor="end">175</text>
<text x="247.50" y="425.20" text-anchor="middle">200</text>
<text x="148.00" y="341.80" text-anchor="end">200</text>
<rect x="149.70" y="339.90" width="97.80" height="79.00" fill="none" stroke="#505050" stroke-width="1"/>
<text class="lg" x="152.50" y="345.50">RMSE=22.73μg/L</text>
<text class="lg" x="152.50" y="351.70">MAPE=27.02%</text>
<text class="lg" x="152.50" y="358.25">N=32</text>
<line x1="151.90" y1="362.90" x2="160.80" y2="362.90" stroke="#4a4a4a" stroke-width="1.1" stroke-dasharray="3.1 2.7"/>
<text class="lg" x="165.90" y="364.90">1:1 Line</text>
<rect x="156.07" y="393.07" width="1.85" height="1.85" class="p"/>
<rect x="160.27" y="394.27" width="1.85" height="1.85" class="p"/>
<rect x="163.38" y="392.68" width="1.85" height="1.85" class="p"/>
<rect x="163.38" y="395.88" width="1.85" height="1.85" class="p"/>
<rect x="172.47" y="389.18" width="1.85" height="1.85" class="p"/>
<rect x="173.27" y="387.57" width="1.85" height="1.85" class="p"/>
<rect x="173.97" y="386.07" width="1.85" height="1.85" class="p"/>
<rect x="175.57" y="387.07" width="1.85" height="1.85" class="p"/>
<rect x="176.77" y="385.27" width="1.85" height="1.85" class="p"/>
<rect x="177.47" y="383.38" width="1.85" height="1.85" class="p"/>
<rect x="177.07" y="381.38" width="1.85" height="1.85" class="p"/>
<rect x="178.67" y="377.47" width="1.85" height="1.85" class="p"/>
<rect x="179.47" y="381.38" width="1.85" height="1.85" class="p"/>
<rect x="180.27" y="382.47" width="1.85" height="1.85" class="p"/>
<rect x="175.57" y="390.27" width="1.85" height="1.85" class="p"/>
<rect x="176.77" y="390.68" width="1.85" height="1.85" class="p"/>
<rect x="177.88" y="389.57" width="1.85" height="1.85" class="p"/>
<rect x="178.97" y="388.68" width="1.85" height="1.85" class="p"/>
<rect x="179.47" y="390.68" width="1.85" height="1.85" class="p"/>
<rect x="177.88" y="386.47" width="1.85" height="1.85" class="p"/>
<rect x="178.67" y="384.97" width="1.85" height="1.85" class="p"/>
<rect x="179.47" y="393.77" width="1.85" height="1.85" class="p"/>
<rect x="183.07" y="390.27" width="1.85" height="1.85" class="p"/>
<rect x="188.77" y="387.57" width="1.85" height="1.85" class="p"/>
<rect x="189.27" y="386.07" width="1.85" height="1.85" class="p"/>
<rect x="189.88" y="386.77" width="1.85" height="1.85" class="p"/>
<rect x="189.27" y="393.77" width="1.85" height="1.85" class="p"/>
<rect x="192.47" y="384.57" width="1.85" height="1.85" class="p"/>
<rect x="196.57" y="384.57" width="1.85" height="1.85" class="p"/>
<rect x="198.07" y="380.88" width="1.85" height="1.85" class="p"/>
<rect x="206.97" y="377.68" width="1.85" height="1.85" class="p"/>
<rect x="215.88" y="381.97" width="1.85" height="1.85" class="p"/>
<rect x="208.97" y="388.68" width="1.85" height="1.85" class="p"/>
<text x="199.10" y="431.20" text-anchor="middle">Measured Chl-a (μg/L)</text>
<text x="193.70" y="436.30" text-anchor="middle">(k)</text>
<text transform="translate(137.80,379.85) rotate(-90)" text-anchor="middle" style="font-size:5.2px;stroke-width:0.08px">Hyper-spectrum derived Chl-a (μg/L)</text>
<line x1="277.60" y1="418.90" x2="375.40" y2="339.90" stroke="#585858" stroke-width="1.1" stroke-dasharray="3.1 2.82" stroke-dashoffset="0.7"/>
<text x="277.60" y="425.20" text-anchor="middle">25</text>
<text x="275.90" y="420.80" text-anchor="end">25</text>
<line x1="291.57" y1="418.90" x2="291.57" y2="417.70" class="tk"/>
<line x1="277.60" y1="407.61" x2="278.80" y2="407.61" class="tk"/>
<text x="291.57" y="425.20" text-anchor="middle">50</text>
<text x="275.90" y="409.51" text-anchor="end">50</text>
<line x1="305.54" y1="418.90" x2="305.54" y2="417.70" class="tk"/>
<line x1="277.60" y1="396.33" x2="278.80" y2="396.33" class="tk"/>
<text x="305.54" y="425.20" text-anchor="middle">75</text>
<text x="275.90" y="398.23" text-anchor="end">75</text>
<line x1="319.51" y1="418.90" x2="319.51" y2="417.70" class="tk"/>
<line x1="277.60" y1="385.04" x2="278.80" y2="385.04" class="tk"/>
<text x="319.51" y="425.20" text-anchor="middle">100</text>
<text x="275.90" y="386.94" text-anchor="end">100</text>
<line x1="333.49" y1="418.90" x2="333.49" y2="417.70" class="tk"/>
<line x1="277.60" y1="373.76" x2="278.80" y2="373.76" class="tk"/>
<text x="333.49" y="425.20" text-anchor="middle">125</text>
<text x="275.90" y="375.66" text-anchor="end">125</text>
<line x1="347.46" y1="418.90" x2="347.46" y2="417.70" class="tk"/>
<line x1="277.60" y1="362.47" x2="278.80" y2="362.47" class="tk"/>
<text x="347.46" y="425.20" text-anchor="middle">150</text>
<text x="275.90" y="364.37" text-anchor="end">150</text>
<line x1="361.43" y1="418.90" x2="361.43" y2="417.70" class="tk"/>
<line x1="277.60" y1="351.19" x2="278.80" y2="351.19" class="tk"/>
<text x="361.43" y="425.20" text-anchor="middle">175</text>
<text x="275.90" y="353.09" text-anchor="end">175</text>
<text x="375.40" y="425.20" text-anchor="middle">200</text>
<text x="275.90" y="341.80" text-anchor="end">200</text>
<rect x="277.60" y="339.90" width="97.80" height="79.00" fill="none" stroke="#505050" stroke-width="1"/>
<text class="lg" x="280.40" y="345.50">RMSE=20.40μg/L</text>
<text class="lg" x="280.40" y="351.70">MAPE=21.35%</text>
<text class="lg" x="280.40" y="358.25">N=32</text>
<line x1="279.80" y1="362.90" x2="288.70" y2="362.90" stroke="#4a4a4a" stroke-width="1.1" stroke-dasharray="3.1 2.7"/>
<text class="lg" x="293.80" y="364.90">1:1 Line</text>
<rect x="284.07" y="395.88" width="1.85" height="1.85" class="p"/>
<rect x="288.27" y="400.47" width="1.85" height="1.85" class="p"/>
<rect x="291.07" y="397.97" width="1.85" height="1.85" class="p"/>
<rect x="291.38" y="393.07" width="1.85" height="1.85" class="p"/>
<rect x="300.77" y="378.97" width="1.85" height="1.85" class="p"/>
<rect x="301.27" y="389.18" width="1.85" height="1.85" class="p"/>
<rect x="300.18" y="392.68" width="1.85" height="1.85" class="p"/>
<rect x="301.97" y="394.88" width="1.85" height="1.85" class="p"/>
<rect x="302.77" y="393.77" width="1.85" height="1.85" class="p"/>
<rect x="303.57" y="395.38" width="1.85" height="1.85" class="p"/>
<rect x="304.38" y="393.07" width="1.85" height="1.85" class="p"/>
<rect x="304.77" y="391.47" width="1.85" height="1.85" class="p"/>
<rect x="305.47" y="390.68" width="1.85" height="1.85" class="p"/>
<rect x="305.88" y="388.68" width="1.85" height="1.85" class="p"/>
<rect x="306.68" y="386.77" width="1.85" height="1.85" class="p"/>
<rect x="307.47" y="384.47" width="1.85" height="1.85" class="p"/>
<rect x="305.07" y="389.88" width="1.85" height="1.85" class="p"/>
<rect x="306.38" y="391.18" width="1.85" height="1.85" class="p"/>
<rect x="303.88" y="396.47" width="1.85" height="1.85" class="p"/>
<rect x="305.07" y="395.88" width="1.85" height="1.85" class="p"/>
<rect x="306.97" y="394.88" width="1.85" height="1.85" class="p"/>
<rect x="311.07" y="377.18" width="1.85" height="1.85" class="p"/>
<rect x="316.77" y="364.97" width="1.85" height="1.85" class="p"/>
<rect x="317.27" y="368.38" width="1.85" height="1.85" class="p"/>
<rect x="317.57" y="383.97" width="1.85" height="1.85" class="p"/>
<rect x="320.27" y="378.18" width="1.85" height="1.85" class="p"/>
<rect x="324.38" y="377.57" width="1.85" height="1.85" class="p"/>
<rect x="325.68" y="374.07" width="1.85" height="1.85" class="p"/>
<rect x="334.47" y="358.57" width="1.85" height="1.85" class="p"/>
<rect x="343.27" y="368.38" width="1.85" height="1.85" class="p"/>
<rect x="336.57" y="386.88" width="1.85" height="1.85" class="p"/>
<text x="327.00" y="431.20" text-anchor="middle">Measured Chl-a (μg/L)</text>
<text x="321.60" y="436.30" text-anchor="middle">(l)</text>
<text transform="translate(265.70,379.85) rotate(-90)" text-anchor="middle" style="font-size:5.2px;stroke-width:0.08px">Hyper-spectrum derived Chl-a (μg/L)</text>
<line x1="21.50" y1="529.40" x2="119.30" y2="450.40" stroke="#585858" stroke-width="1.1" stroke-dasharray="3.1 2.82" stroke-dashoffset="0.7"/>
<text x="21.50" y="535.70" text-anchor="middle">25</text>
<text x="19.80" y="531.30" text-anchor="end">25</text>
<line x1="35.47" y1="529.40" x2="35.47" y2="528.20" class="tk"/>
<line x1="21.50" y1="518.11" x2="22.70" y2="518.11" class="tk"/>
<text x="35.47" y="535.70" text-anchor="middle">50</text>
<text x="19.80" y="520.01" text-anchor="end">50</text>
<line x1="49.44" y1="529.40" x2="49.44" y2="528.20" class="tk"/>
<line x1="21.50" y1="506.83" x2="22.70" y2="506.83" class="tk"/>
<text x="49.44" y="535.70" text-anchor="middle">75</text>
<text x="19.80" y="508.73" text-anchor="end">75</text>
<line x1="63.41" y1="529.40" x2="63.41" y2="528.20" class="tk"/>
<line x1="21.50" y1="495.54" x2="22.70" y2="495.54" class="tk"/>
<text x="63.41" y="535.70" text-anchor="middle">100</text>
<text x="19.80" y="497.44" text-anchor="end">100</text>
<line x1="77.39" y1="529.40" x2="77.39" y2="528.20" class="tk"/>
<line x1="21.50" y1="484.26" x2="22.70" y2="484.26" class="tk"/>
<text x="77.39" y="535.70" text-anchor="middle">125</text>
<text x="19.80" y="486.16" text-anchor="end">125</text>
<line x1="91.36" y1="529.40" x2="91.36" y2="528.20" class="tk"/>
<line x1="21.50" y1="472.97" x2="22.70" y2="472.97" class="tk"/>
<text x="91.36" y="535.70" text-anchor="middle">150</text>
<text x="19.80" y="474.87" text-anchor="end">150</text>
<line x1="105.33" y1="529.40" x2="105.33" y2="528.20" class="tk"/>
<line x1="21.50" y1="461.69" x2="22.70" y2="461.69" class="tk"/>
<text x="105.33" y="535.70" text-anchor="middle">175</text>
<text x="19.80" y="463.59" text-anchor="end">175</text>
<text x="119.30" y="535.70" text-anchor="middle">200</text>
<text x="19.80" y="452.30" text-anchor="end">200</text>
<rect x="21.50" y="450.40" width="97.80" height="79.00" fill="none" stroke="#505050" stroke-width="1"/>
<text class="lg" x="24.30" y="456.00">RMSE=24.47μg/L</text>
<text class="lg" x="24.30" y="462.20">MAPE=28.17%</text>
<text class="lg" x="24.30" y="468.75">N=32</text>
<line x1="23.70" y1="473.40" x2="32.60" y2="473.40" stroke="#4a4a4a" stroke-width="1.1" stroke-dasharray="3.1 2.7"/>
<text class="lg" x="37.70" y="475.40">1:1 Line</text>
<rect x="28.18" y="499.47" width="1.85" height="1.85" class="p"/>
<rect x="32.18" y="499.47" width="1.85" height="1.85" class="p"/>
<rect x="34.98" y="499.47" width="1.85" height="1.85" class="p"/>
<rect x="35.78" y="499.47" width="1.85" height="1.85" class="p"/>
<rect x="44.18" y="499.47" width="1.85" height="1.85" class="p"/>
<rect x="45.68" y="499.47" width="1.85" height="1.85" class="p"/>
<rect x="47.18" y="499.47" width="1.85" height="1.85" class="p"/>
<rect x="48.68" y="499.47" width="1.85" height="1.85" class="p"/>
<rect x="50.18" y="499.47" width="1.85" height="1.85" class="p"/>
<rect x="51.68" y="499.47" width="1.85" height="1.85" class="p"/>
<rect x="55.08" y="499.47" width="1.85" height="1.85" class="p"/>
<rect x="61.18" y="499.47" width="1.85" height="1.85" class="p"/>
<rect x="64.58" y="499.47" width="1.85" height="1.85" class="p"/>
<rect x="68.67" y="499.47" width="1.85" height="1.85" class="p"/>
<rect x="70.28" y="499.47" width="1.85" height="1.85" class="p"/>
<rect x="78.88" y="499.47" width="1.85" height="1.85" class="p"/>
<rect x="81.08" y="499.47" width="1.85" height="1.85" class="p"/>
<rect x="87.88" y="499.47" width="1.85" height="1.85" class="p"/>
<text x="70.90" y="541.70" text-anchor="middle">Measured Chl-a (μg/L)</text>
<text x="65.50" y="546.80" text-anchor="middle">(m)</text>
<text transform="translate(9.60,490.35) rotate(-90)" text-anchor="middle" style="font-size:5.2px;stroke-width:0.08px">Hyper-spectrum derived Chl-a (μg/L)</text>
<line x1="149.70" y1="529.40" x2="247.50" y2="450.40" stroke="#585858" stroke-width="1.1" stroke-dasharray="3.1 2.82" stroke-dashoffset="0.7"/>
<text x="149.70" y="535.70" text-anchor="middle">25</text>
<text x="148.00" y="531.30" text-anchor="end">25</text>
<line x1="163.67" y1="529.40" x2="163.67" y2="528.20" class="tk"/>
<line x1="149.70" y1="518.11" x2="150.90" y2="518.11" class="tk"/>
<text x="163.67" y="535.70" text-anchor="middle">50</text>
<text x="148.00" y="520.01" text-anchor="end">50</text>
<line x1="177.64" y1="529.40" x2="177.64" y2="528.20" class="tk"/>
<line x1="149.70" y1="506.83" x2="150.90" y2="506.83" class="tk"/>
<text x="177.64" y="535.70" text-anchor="middle">75</text>
<text x="148.00" y="508.73" text-anchor="end">75</text>
<line x1="191.61" y1="529.40" x2="191.61" y2="528.20" class="tk"/>
<line x1="149.70" y1="495.54" x2="150.90" y2="495.54" class="tk"/>
<text x="191.61" y="535.70" text-anchor="middle">100</text>
<text x="148.00" y="497.44" text-anchor="end">100</text>
<line x1="205.59" y1="529.40" x2="205.59" y2="528.20" class="tk"/>
<line x1="149.70" y1="484.26" x2="150.90" y2="484.26" class="tk"/>
<text x="205.59" y="535.70" text-anchor="middle">125</text>
<text x="148.00" y="486.16" text-anchor="end">125</text>
<line x1="219.56" y1="529.40" x2="219.56" y2="528.20" class="tk"/>
<line x1="149.70" y1="472.97" x2="150.90" y2="472.97" class="tk"/>
<text x="219.56" y="535.70" text-anchor="middle">150</text>
<text x="148.00" y="474.87" text-anchor="end">150</text>
<line x1="233.53" y1="529.40" x2="233.53" y2="528.20" class="tk"/>
<line x1="149.70" y1="461.69" x2="150.90" y2="461.69" class="tk"/>
<text x="233.53" y="535.70" text-anchor="middle">175</text>
<text x="148.00" y="463.59" text-anchor="end">175</text>
<text x="247.50" y="535.70" text-anchor="middle">200</text>
<text x="148.00" y="452.30" text-anchor="end">200</text>
<rect x="149.70" y="450.40" width="97.80" height="79.00" fill="none" stroke="#505050" stroke-width="1"/>
<text class="lg" x="152.50" y="456.00">RMSE=15.99μg/L</text>
<text class="lg" x="152.50" y="462.20">MAPE=15.94%</text>
<text class="lg" x="152.50" y="468.75">N=32</text>
<line x1="151.90" y1="473.40" x2="160.80" y2="473.40" stroke="#4a4a4a" stroke-width="1.1" stroke-dasharray="3.1 2.7"/>
<text class="lg" x="165.90" y="475.40">1:1 Line</text>
<rect x="156.07" y="504.27" width="1.85" height="1.85" class="p"/>
<rect x="160.27" y="510.47" width="1.85" height="1.85" class="p"/>
<rect x="163.38" y="502.68" width="1.85" height="1.85" class="p"/>
<rect x="163.38" y="506.18" width="1.85" height="1.85" class="p"/>
<rect x="172.47" y="503.77" width="1.85" height="1.85" class="p"/>
<rect x="173.27" y="504.88" width="1.85" height="1.85" class="p"/>
<rect x="173.97" y="505.88" width="1.85" height="1.85" class="p"/>
<rect x="174.77" y="507.68" width="1.85" height="1.85" class="p"/>
<rect x="173.67" y="508.47" width="1.85" height="1.85" class="p"/>
<rect x="175.88" y="504.57" width="1.85" height="1.85" class="p"/>
<rect x="176.77" y="503.38" width="1.85" height="1.85" class="p"/>
<rect x="177.88" y="502.68" width="1.85" height="1.85" class="p"/>
<rect x="178.67" y="495.27" width="1.85" height="1.85" class="p"/>
<rect x="179.77" y="495.27" width="1.85" height="1.85" class="p"/>
<rect x="178.67" y="499.18" width="1.85" height="1.85" class="p"/>
<rect x="179.47" y="498.68" width="1.85" height="1.85" class="p"/>
<rect x="176.77" y="506.97" width="1.85" height="1.85" class="p"/>
<rect x="177.88" y="506.47" width="1.85" height="1.85" class="p"/>
<rect x="178.97" y="507.38" width="1.85" height="1.85" class="p"/>
<rect x="178.67" y="503.77" width="1.85" height="1.85" class="p"/>
<rect x="182.57" y="502.27" width="1.85" height="1.85" class="p"/>
<rect x="189.27" y="493.97" width="1.85" height="1.85" class="p"/>
<rect x="189.88" y="495.27" width="1.85" height="1.85" class="p"/>
<rect x="192.47" y="486.77" width="1.85" height="1.85" class="p"/>
<rect x="196.57" y="489.68" width="1.85" height="1.85" class="p"/>
<rect x="198.07" y="493.47" width="1.85" height="1.85" class="p"/>
<rect x="206.97" y="466.97" width="1.85" height="1.85" class="p"/>
<rect x="215.88" y="482.57" width="1.85" height="1.85" class="p"/>
<rect x="208.97" y="498.18" width="1.85" height="1.85" class="p"/>
<text x="199.10" y="541.70" text-anchor="middle">Measured Chl-a (μg/L)</text>
<text x="193.70" y="546.80" text-anchor="middle">(n)</text>
<text transform="translate(137.80,490.35) rotate(-90)" text-anchor="middle" style="font-size:5.2px;stroke-width:0.08px">Hyper-spectrum derived Chl-a (μg/L)</text>
</svg>
</body></html>
